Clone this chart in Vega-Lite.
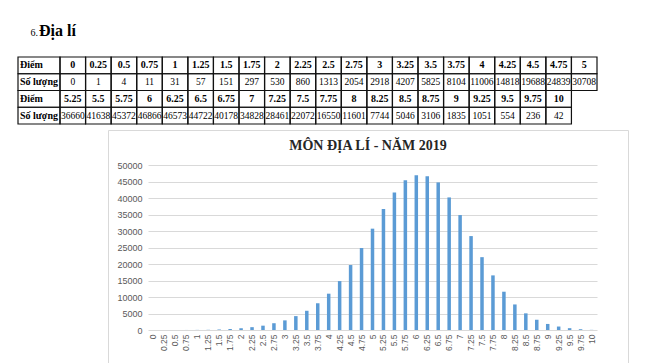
{
  "$schema": "https://vega.github.io/schema/vega-lite/v6.json",
  "width": 520,
  "height": 235,
  "padding": {"left": 108, "top": 130, "right": 17, "bottom": 0},
  "autosize": {"type": "none"},
  "background": "white",
  "config": {"view": {"stroke": "#d9d9d9", "strokeWidth": 1}},
  "datasets": {
    "scores": [
      {"diem": "0", "count": 0}, {"diem": "0.25", "count": 1}, {"diem": "0.5", "count": 4}, {"diem": "0.75", "count": 11},
      {"diem": "1", "count": 31}, {"diem": "1.25", "count": 57}, {"diem": "1.5", "count": 151}, {"diem": "1.75", "count": 297},
      {"diem": "2", "count": 530}, {"diem": "2.25", "count": 860}, {"diem": "2.5", "count": 1313}, {"diem": "2.75", "count": 2054},
      {"diem": "3", "count": 2918}, {"diem": "3.25", "count": 4207}, {"diem": "3.5", "count": 5825}, {"diem": "3.75", "count": 8104},
      {"diem": "4", "count": 11006}, {"diem": "4.25", "count": 14818}, {"diem": "4.5", "count": 19688}, {"diem": "4.75", "count": 24839},
      {"diem": "5", "count": 30708}, {"diem": "5.25", "count": 36660}, {"diem": "5.5", "count": 41638}, {"diem": "5.75", "count": 45372},
      {"diem": "6", "count": 46866}, {"diem": "6.25", "count": 46573}, {"diem": "6.5", "count": 44722}, {"diem": "6.75", "count": 40178},
      {"diem": "7", "count": 34828}, {"diem": "7.25", "count": 28461}, {"diem": "7.5", "count": 22072}, {"diem": "7.75", "count": 16550},
      {"diem": "8", "count": 11601}, {"diem": "8.25", "count": 7744}, {"diem": "8.5", "count": 5046}, {"diem": "8.75", "count": 3106},
      {"diem": "9", "count": 1835}, {"diem": "9.25", "count": 1051}, {"diem": "9.5", "count": 554}, {"diem": "9.75", "count": 236},
      {"diem": "10", "count": 42}
    ],
    "table": [
      {"r": 1, "c": 0, "t": "Điểm"}, {"r": 1, "c": 1, "t": "0"}, {"r": 1, "c": 2, "t": "0.25"}, {"r": 1, "c": 3, "t": "0.5"}, {"r": 1, "c": 4, "t": "0.75"}, {"r": 1, "c": 5, "t": "1"}, {"r": 1, "c": 6, "t": "1.25"}, {"r": 1, "c": 7, "t": "1.5"}, {"r": 1, "c": 8, "t": "1.75"}, {"r": 1, "c": 9, "t": "2"}, {"r": 1, "c": 10, "t": "2.25"}, {"r": 1, "c": 11, "t": "2.5"}, {"r": 1, "c": 12, "t": "2.75"}, {"r": 1, "c": 13, "t": "3"}, {"r": 1, "c": 14, "t": "3.25"}, {"r": 1, "c": 15, "t": "3.5"}, {"r": 1, "c": 16, "t": "3.75"}, {"r": 1, "c": 17, "t": "4"}, {"r": 1, "c": 18, "t": "4.25"}, {"r": 1, "c": 19, "t": "4.5"}, {"r": 1, "c": 20, "t": "4.75"}, {"r": 1, "c": 21, "t": "5"},
      {"r": 2, "c": 0, "t": "Số lượng"}, {"r": 2, "c": 1, "t": "0"}, {"r": 2, "c": 2, "t": "1"}, {"r": 2, "c": 3, "t": "4"}, {"r": 2, "c": 4, "t": "11"}, {"r": 2, "c": 5, "t": "31"}, {"r": 2, "c": 6, "t": "57"}, {"r": 2, "c": 7, "t": "151"}, {"r": 2, "c": 8, "t": "297"}, {"r": 2, "c": 9, "t": "530"}, {"r": 2, "c": 10, "t": "860"}, {"r": 2, "c": 11, "t": "1313"}, {"r": 2, "c": 12, "t": "2054"}, {"r": 2, "c": 13, "t": "2918"}, {"r": 2, "c": 14, "t": "4207"}, {"r": 2, "c": 15, "t": "5825"}, {"r": 2, "c": 16, "t": "8104"}, {"r": 2, "c": 17, "t": "11006"}, {"r": 2, "c": 18, "t": "14818"}, {"r": 2, "c": 19, "t": "19688"}, {"r": 2, "c": 20, "t": "24839"}, {"r": 2, "c": 21, "t": "30708"},
      {"r": 3, "c": 0, "t": "Điểm"}, {"r": 3, "c": 1, "t": "5.25"}, {"r": 3, "c": 2, "t": "5.5"}, {"r": 3, "c": 3, "t": "5.75"}, {"r": 3, "c": 4, "t": "6"}, {"r": 3, "c": 5, "t": "6.25"}, {"r": 3, "c": 6, "t": "6.5"}, {"r": 3, "c": 7, "t": "6.75"}, {"r": 3, "c": 8, "t": "7"}, {"r": 3, "c": 9, "t": "7.25"}, {"r": 3, "c": 10, "t": "7.5"}, {"r": 3, "c": 11, "t": "7.75"}, {"r": 3, "c": 12, "t": "8"}, {"r": 3, "c": 13, "t": "8.25"}, {"r": 3, "c": 14, "t": "8.5"}, {"r": 3, "c": 15, "t": "8.75"}, {"r": 3, "c": 16, "t": "9"}, {"r": 3, "c": 17, "t": "9.25"}, {"r": 3, "c": 18, "t": "9.5"}, {"r": 3, "c": 19, "t": "9.75"}, {"r": 3, "c": 20, "t": "10"},
      {"r": 4, "c": 0, "t": "Số lượng"}, {"r": 4, "c": 1, "t": "36660"}, {"r": 4, "c": 2, "t": "41638"}, {"r": 4, "c": 3, "t": "45372"}, {"r": 4, "c": 4, "t": "46866"}, {"r": 4, "c": 5, "t": "46573"}, {"r": 4, "c": 6, "t": "44722"}, {"r": 4, "c": 7, "t": "40178"}, {"r": 4, "c": 8, "t": "34828"}, {"r": 4, "c": 9, "t": "28461"}, {"r": 4, "c": 10, "t": "22072"}, {"r": 4, "c": 11, "t": "16550"}, {"r": 4, "c": 12, "t": "11601"}, {"r": 4, "c": 13, "t": "7744"}, {"r": 4, "c": 14, "t": "5046"}, {"r": 4, "c": 15, "t": "3106"}, {"r": 4, "c": 16, "t": "1835"}, {"r": 4, "c": 17, "t": "1051"}, {"r": 4, "c": 18, "t": "554"}, {"r": 4, "c": 19, "t": "236"}, {"r": 4, "c": 20, "t": "42"}
    ],
    "heading": [{"section": "6.", "subject": "Địa lí"}],
    "charttitle": [{"title": "MÔN ĐỊA LÍ - NĂM 2019"}]
  },
  "layer": [
    {
      "data": {"name": "scores"},
      "mark": {"type": "bar", "color": "#5b9bd5"},
      "encoding": {
        "x": {"field": "diem", "type": "nominal", "sort": null,
          "scale": {"type": "band", "range": [40, 489], "paddingInner": 0.68, "paddingOuter": 0.34},
          "axis": {"title": null, "orient": "bottom", "offset": -35, "labelAngle": -90, "labelPadding": 4, "domain": false, "ticks": false, "labelFont": "Liberation Sans", "labelFontSize": 8.5, "labelColor": "#595959"}},
        "y": {"field": "count", "type": "quantitative",
          "scale": {"domain": [0, 50000], "range": [200, 35], "nice": false, "zero": true},
          "axis": {"title": null, "offset": -40, "format": "d", "values": [0, 5000, 10000, 15000, 20000, 25000, 30000, 35000, 40000, 45000, 50000], "grid": true, "gridColor": "#d9d9d9", "domain": false, "ticks": false, "labelPadding": 6, "labelFont": "Liberation Sans", "labelFontSize": 9, "labelColor": "#595959"}}
      }
    },
    {
      "data": {"name": "charttitle"},
      "mark": {"type": "text", "font": "Liberation Serif", "fontSize": 14, "fontWeight": "bold", "color": "#262626", "align": "center", "baseline": "middle"},
      "encoding": {
        "x": {"field": "title", "type": "nominal", "scale": {"type": "point", "range": [250, 270], "padding": 0.5}, "axis": null},
        "y": {"field": "title", "type": "nominal", "scale": {"type": "point", "range": [6, 26], "padding": 0.5}, "axis": null},
        "text": {"field": "title"}
      }
    },
    {
      "data": {"name": "table"},
      "transform": [{"filter": "datum.c > 0"}],
      "encoding": {
        "x": {"field": "c", "type": "ordinal", "scale": {"type": "band", "range": [-48, 489], "paddingInner": 0, "paddingOuter": 0}, "axis": null},
        "y": {"field": "r", "type": "ordinal", "scale": {"type": "band", "range": [-73, -6], "paddingInner": 0, "paddingOuter": 0}, "axis": null}
      },
      "layer": [
        {"mark": {"type": "rect", "fill": "transparent", "stroke": "#111", "strokeWidth": 1.2}},
        {"transform": [{"filter": "datum.r == 1 || datum.r == 3"}],
         "mark": {"type": "text", "font": "Liberation Serif", "fontSize": 10, "fontWeight": "bold", "color": "#000", "baseline": "middle"},
         "encoding": {"text": {"field": "t"}}},
        {"transform": [{"filter": "datum.r == 2 || datum.r == 4"}],
         "mark": {"type": "text", "font": "Liberation Serif", "fontSize": 9.5, "color": "#000", "baseline": "middle"},
         "encoding": {"text": {"field": "t"}}}
      ]
    },
    {
      "data": {"name": "table"},
      "transform": [{"filter": "datum.c == 0"}],
      "encoding": {
        "x": {"field": "c", "type": "ordinal", "scale": {"type": "band", "range": [-90, -48], "paddingInner": 0, "paddingOuter": 0}, "axis": null},
        "y": {"field": "r", "type": "ordinal", "scale": {"type": "band", "range": [-73, -6], "paddingInner": 0, "paddingOuter": 0}, "axis": null}
      },
      "layer": [
        {"mark": {"type": "rect", "fill": "transparent", "stroke": "#111", "strokeWidth": 1.2}},
        {"mark": {"type": "text", "font": "Liberation Serif", "fontSize": 10, "fontWeight": "bold", "color": "#000", "baseline": "middle", "align": "left", "dx": 2},
         "encoding": {"x": {"field": "c", "type": "ordinal", "bandPosition": 0}, "text": {"field": "t"}}}
      ]
    },
    {
      "data": {"name": "heading"},
      "encoding": {
        "x": {"field": "subject", "type": "nominal", "scale": {"type": "point", "range": [-79, -59], "padding": 0.5}, "axis": null},
        "y": {"field": "subject", "type": "nominal", "scale": {"type": "point", "range": [-104, -84], "padding": 0.5}, "axis": null}
      },
      "layer": [
        {"mark": {"type": "text", "font": "Liberation Serif", "fontSize": 16, "fontWeight": "bold", "align": "left", "baseline": "alphabetic", "color": "#000"},
         "encoding": {"text": {"field": "subject"}}},
        {"mark": {"type": "text", "font": "Liberation Serif", "fontSize": 10, "align": "right", "baseline": "alphabetic", "dx": -1, "color": "#000"},
         "encoding": {"text": {"field": "section"}}}
      ]
    }
  ],
  "resolve": {"scale": {"x": "independent", "y": "independent"}, "axis": {"x": "independent", "y": "independent"}}
}
